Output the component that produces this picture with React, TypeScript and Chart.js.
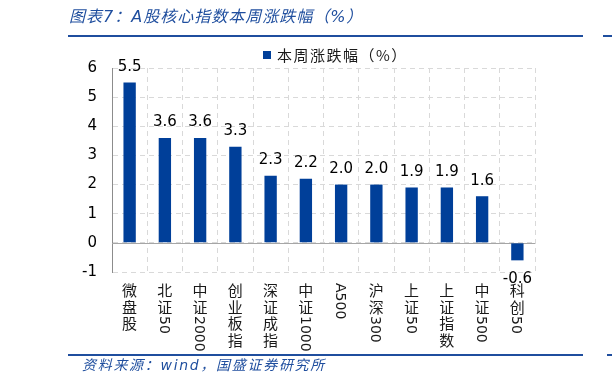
import React, { useEffect, useRef } from 'react';
import { Chart, registerables } from 'chart.js';

Chart.register(...registerables);

const categories = ['微盘股', '北证50', '中证2000', '创业板指', '深证成指', '中证1000', 'A500', '沪深300', '上证50', '上证指数', '中证500', '科创50'];
const weeklyChange = [5.5, 3.6, 3.6, 3.3, 2.3, 2.2, 2.0, 2.0, 1.9, 1.9, 1.6, -0.6];
const yMin = -1;
const yMax = 6;
const seriesName = '本周涨跌幅（%）';
const titleText = '图表7：A股核心指数本周涨跌幅（%）';
const sourceText = '资料来源：wind，国盛证券研究所';

const BAR = '#003f99';
const BLUE = '#1f4e9e';
const GRID = '#d9d9d9';
const NUM_FONT = '"DejaVu Sans", "Noto Sans CJK SC", sans-serif';
const CJK_FONT = '"Noto Sans CJK SC", sans-serif';

function drawVertical(ctx: CanvasRenderingContext2D, text: string, x: number, y0: number) {
  const runs = text.match(/[\x00-\x7F]+|[^\x00-\x7F]/g) || [];
  let y = y0;
  for (const run of runs) {
    if (/^[\x00-\x7F]+$/.test(run)) {
      ctx.save();
      ctx.font = `14px ${NUM_FONT}`;
      ctx.translate(x, y);
      ctx.rotate(Math.PI / 2);
      ctx.textAlign = 'left';
      ctx.textBaseline = 'alphabetic';
      ctx.fillText(run, 0, 5);
      const w = ctx.measureText(run).width;
      ctx.restore();
      y += w;
    } else {
      ctx.save();
      ctx.font = `15px ${CJK_FONT}`;
      ctx.textAlign = 'center';
      ctx.textBaseline = 'top';
      ctx.fillText(run, x, y);
      ctx.restore();
      y += 16.5;
    }
  }
}

const decorPlugin = {
  id: 'decor',
  beforeDatasetsDraw(chart: any) {
    const { ctx, chartArea, scales } = chart;
    const y0 = scales.y.getPixelForValue(0);
    ctx.save();
    ctx.strokeStyle = '#a6a6a6';
    ctx.lineWidth = 1;
    ctx.beginPath();
    ctx.moveTo(chartArea.left, Math.round(y0) + 0.5);
    ctx.lineTo(chartArea.right, Math.round(y0) + 0.5);
    ctx.stroke();
    ctx.restore();
  },
  afterDatasetsDraw(chart: any) {
    const { ctx } = chart;
    const meta = chart.getDatasetMeta(0);
    ctx.save();
    ctx.fillStyle = '#000';
    ctx.font = `15px ${NUM_FONT}`;
    ctx.textAlign = 'center';
    ctx.textBaseline = 'alphabetic';
    meta.data.forEach((bar: any, i: number) => {
      const v = weeklyChange[i];
      const label = v.toFixed(1);
      if (v >= 0) {
        ctx.fillText(label, bar.x, bar.y - 11.5);
      } else {
        ctx.fillText(label, bar.x, bar.y + 23);
      }
    });
    ctx.restore();
  },
  afterDraw(chart: any) {
    const { ctx, chartArea, scales } = chart;
    // x category labels (vertical)
    ctx.save();
    ctx.fillStyle = '#1a1a1a';
    categories.forEach((c, i) => {
      const x = scales.x.getPixelForValue(i);
      drawVertical(ctx, c, x, chartArea.bottom + 11);
    });
    ctx.restore();

    // legend
    ctx.save();
    const lx = 263;
    const ly = 55;
    ctx.fillStyle = BAR;
    ctx.fillRect(lx, ly - 4, 8, 8);
    ctx.fillStyle = '#1a1a1a';
    ctx.font = `15px ${CJK_FONT}`;
    (ctx as any).letterSpacing = '1.5px';
    ctx.textAlign = 'left';
    ctx.textBaseline = 'middle';
    ctx.fillText(seriesName, lx + 14, ly);
    ctx.restore();

    // title and source
    ctx.save();
    ctx.fillStyle = BLUE;
    ctx.font = `italic 16px ${NUM_FONT}`;
    (ctx as any).letterSpacing = '1px';
    ctx.textAlign = 'left';
    ctx.textBaseline = 'middle';
    ctx.fillText(titleText, 69, 18);
    ctx.font = `italic 14px ${NUM_FONT}`;
    (ctx as any).letterSpacing = '1.7px';
    ctx.fillText(sourceText, 82, 366);
    ctx.fillStyle = '#1f4e9e';
    ctx.fillRect(68, 35, 515, 2);
    ctx.fillRect(603, 35, 9, 2);
    ctx.fillRect(68, 354, 515, 2);
    ctx.fillRect(607, 354, 5, 2);
    ctx.restore();
  },
};

export default function App() {
  const ref = useRef<HTMLCanvasElement>(null);
  useEffect(() => {
    document.body.style.margin = '0';
    const chart = new Chart(ref.current as HTMLCanvasElement, {
      type: 'bar',
      data: {
        labels: categories,
        datasets: [
          {
            label: seriesName,
            data: weeklyChange,
            backgroundColor: BAR,
            borderWidth: 0,
            categoryPercentage: 1,
            barPercentage: 0.35,
          },
        ],
      },
      options: {
        responsive: false,
        animation: false,
        layout: { padding: { left: 0, right: 77, top: 68, bottom: 0 } },
        plugins: { legend: { display: false }, title: { display: false }, tooltip: { enabled: false } },
        scales: {
          x: {
            type: 'category',
            offset: true,
            grid: { color: GRID, lineWidth: 1, drawTicks: false, offset: true },
            border: { display: false, dash: [5, 4] },
            ticks: { display: false },
            afterFit: (s: any) => { s.height = 114; },
          },
          y: {
            min: yMin,
            max: yMax,
            ticks: { stepSize: 1, color: '#000', font: { family: NUM_FONT, size: 15 }, padding: 15 },
            grid: { color: GRID, lineWidth: 1, drawTicks: false },
            border: { display: true, color: '#8c8c8c', width: 1, dash: [5, 4] },
            afterFit: (s: any) => { s.width = 112; },
          },
        },
      },
      plugins: [decorPlugin],
    } as any);
    return () => chart.destroy();
  }, []);
  return (
    <div style={{ position: 'absolute', left: 0, top: 0, width: 612, height: 386, background: '#fff' }}>
      <canvas ref={ref} width={612} height={386} style={{ width: 612, height: 386 }} />
    </div>
  );
}
